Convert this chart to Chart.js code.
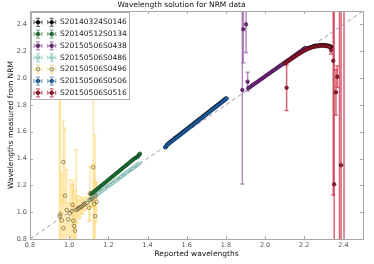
<!DOCTYPE html>
<html>
<head>
<meta charset="utf-8">
<script src="https://cdn.jsdelivr.net/npm/chart.js@4/dist/chart.umd.min.js"></script>
<style>
html,body{margin:0;padding:0;background:#fff;}
#wrap{width:374px;height:264px;}
</style>
</head>
<body>
<div id="wrap"><canvas id="c" width="374" height="264"></canvas></div>
<script>
// ---------- data ----------
const xTicks = [0.8, 1.0, 1.2, 1.4, 1.6, 1.8, 2.0, 2.2, 2.4];
const yTicks = [0.8, 1.0, 1.2, 1.4, 1.6, 1.8, 2.0, 2.2, 2.4];
const refLine = [0.8, 2.5];

const names = ["S20140324S0146","S20140512S0134","S20150506S0438","S20150506S0486","S20150506S0496","S20150506S0506","S20150506S0516"];

const blackX = [1.493,1.500,1.510,1.520,1.530,1.540,1.550,1.560,1.570,1.580,1.590,1.600,1.610,1.620,1.630,1.640,1.650,1.660,1.670,1.680,1.690,1.700,1.710,1.720,1.730,1.740,1.750,1.760,1.770,1.780,1.790,1.800,
  2.170,2.180,2.190,2.200,2.210,2.220,2.230,2.240,2.250,2.260,2.270,2.280,2.290,2.300,2.310,2.320,2.330,2.336];
const blackY = [1.486,1.503,1.517,1.529,1.540,1.552,1.563,1.574,1.586,1.597,1.609,1.620,1.631,1.643,1.654,1.666,1.677,1.688,1.700,1.711,1.723,1.734,1.745,1.757,1.768,1.780,1.791,1.802,1.814,1.825,1.837,1.848,
  2.183,2.192,2.201,2.209,2.216,2.223,2.229,2.234,2.238,2.241,2.243,2.245,2.246,2.246,2.245,2.243,2.238,2.232];
const blackErr = [];

const greenX = [1.112,1.120,1.128,1.136,1.144,1.152,1.160,1.168,1.176,1.184,1.192,1.200,1.208,1.216,1.224,1.232,1.240,1.248,1.256,1.264,1.272,1.280,1.288,1.296,1.304,1.312,1.320,1.328,1.336,1.343,1.349,1.354,1.358,1.361];
const greenY = [1.135,1.145,1.154,1.164,1.173,1.183,1.193,1.202,1.212,1.221,1.231,1.241,1.250,1.260,1.269,1.279,1.289,1.298,1.308,1.317,1.327,1.337,1.346,1.356,1.365,1.375,1.385,1.394,1.402,1.408,1.414,1.421,1.429,1.436];
const greenErr = [];

const purpleX = [1.884,1.889,1.903,1.911,1.914,1.922,1.930,1.938,1.946,1.954,1.962,1.970,1.978,1.986,1.994,2.002,2.010,2.018,2.026,2.034,2.042,2.050,2.058,2.066,2.074,2.082,2.090,2.098,2.106,2.114,2.122,2.130,2.138,2.146,2.154,2.162,2.170,2.178,2.186,2.194,2.200,2.206];
const purpleY = [1.911,2.364,2.400,1.973,1.924,1.932,1.940,1.949,1.957,1.965,1.973,1.982,1.990,1.998,2.006,2.015,2.023,2.031,2.039,2.048,2.056,2.064,2.072,2.081,2.089,2.097,2.105,2.114,2.122,2.130,2.138,2.146,2.155,2.163,2.171,2.179,2.188,2.196,2.204,2.213,2.220,2.226];
const purpleErr = [0.70,0.25,0.21,0.07];

const tealX = [1.103,1.111,1.119,1.127,1.135,1.143,1.151,1.159,1.167,1.175,1.183,1.191,1.199,1.207,1.215,1.223,1.231,1.239,1.247,1.255,1.263,1.271,1.279,1.287,1.295,1.303,1.311,1.319,1.327,1.335,1.343,1.351,1.358];
const tealY = [1.091,1.100,1.108,1.117,1.125,1.134,1.142,1.151,1.159,1.168,1.177,1.185,1.194,1.202,1.211,1.219,1.228,1.237,1.245,1.254,1.262,1.271,1.279,1.288,1.296,1.305,1.314,1.322,1.331,1.339,1.348,1.356,1.364];
const tealErr = [];

const yellowX = [0.950,0.955,0.962,0.970,0.971,0.979,0.987,0.996,1.004,1.013,1.018,1.021,1.025,1.030,1.036,1.041,1.048,1.055,1.062,1.068,1.075,1.082,1.090,1.101,1.106,1.110,1.118,1.123,1.128,1.132,1.135,1.140];
const yellowY = [0.971,0.985,0.939,1.374,0.880,1.123,1.016,0.947,0.992,1.009,1.054,0.936,0.897,0.862,1.016,1.022,1.028,1.035,1.040,1.048,1.055,1.062,1.070,1.033,1.141,1.090,1.100,1.335,1.060,0.971,1.120,1.078];
const yellowErr = [1.70,1.60,0.35,0.31,0.25,0.50,0.30,0.12,0.25,0.20,0.15,0.30,0.15,0.30,0.45,0.10,0.06,0.08,0.05,0.06,0.04,0.05,0.04,0.10,0.20,0.05,0.06,1.50,0.30,0.60,0.10,0.15];

const blueX = [1.490,1.496,1.502,1.510,1.518,1.526,1.534,1.542,1.550,1.558,1.566,1.574,1.582,1.590,1.598,1.606,1.614,1.622,1.630,1.638,1.646,1.654,1.662,1.670,1.678,1.686,1.694,1.702,1.710,1.718,1.726,1.734,1.742,1.750,1.758,1.766,1.774,1.782,1.790,1.797,1.804];
const blueY = [1.484,1.494,1.502,1.511,1.521,1.530,1.539,1.548,1.557,1.566,1.575,1.584,1.593,1.603,1.612,1.621,1.630,1.639,1.648,1.657,1.666,1.676,1.685,1.694,1.703,1.712,1.721,1.730,1.739,1.749,1.758,1.767,1.776,1.785,1.794,1.803,1.812,1.822,1.831,1.839,1.848];
const blueErr = [];

const redX = [2.110,2.337,2.348,2.353,2.362,2.369,2.380,2.388,2.403,
  2.100,2.108,2.116,2.124,2.132,2.140,2.148,2.156,2.164,2.172,2.180,2.188,2.196,2.204,2.212,2.220,2.228,2.236,2.244,2.252,2.260,2.268,2.276,2.284,2.292,2.300,2.308,2.316,2.324,2.330];
const redY = [1.928,2.209,2.129,1.208,1.894,2.010,0.400,1.350,3.000,
  2.108,2.116,2.124,2.132,2.140,2.148,2.156,2.164,2.172,2.180,2.187,2.194,2.201,2.207,2.213,2.218,2.223,2.227,2.231,2.234,2.236,2.238,2.240,2.241,2.241,2.241,2.240,2.238,2.235,2.231];
const redErr = [0.17,0.03,1.00,1.60,0.17,0.08,2.50,1.60,2.80];

// ---------- styles ----------
const styles = [
  {face:'#000000', edge:'#000000', err:'rgba(0,0,0,0.55)'},
  {face:'#1b7837', edge:'#0b3d1a', err:'rgba(27,120,55,0.55)'},
  {face:'#762a83', edge:'#3a1040', err:'rgba(130,60,145,0.6)'},
  {face:'rgba(255,255,255,0)', edge:'#5fa99c', err:'rgba(128,205,193,0.7)'},
  {face:'rgba(255,255,255,0)', edge:'#5e5326', err:'rgba(253,214,110,0.6)'},
  {face:'#2166ac', edge:'#0d2f55', err:'rgba(33,102,172,0.55)'},
  {face:'#a0182b', edge:'#3a0810', err:'rgba(200,35,60,0.7)'}
];
const xs = [blackX, greenX, purpleX, tealX, yellowX, blueX, redX];
const ys = [blackY, greenY, purpleY, tealY, yellowY, blueY, redY];
const es = [blackErr, greenErr, purpleErr, tealErr, yellowErr, blueErr, redErr];

const datasets = names.map((n, i) => ({
  label: n,
  data: xs[i].map((x, k) => ({x: x, y: ys[i][k]})),
  err: es[i],
  errColor: styles[i].err,
  backgroundColor: styles[i].face,
  borderColor: styles[i].edge,
  borderWidth: 0.6,
  pointRadius: 1.8,
  pointHoverRadius: 1.8,
  showLine: false,
  order: 7 - i
}));
datasets.push({
  label: '__ref',
  data: refLine.map(v => ({x: v, y: v})),
  showLine: true,
  borderColor: '#a094b4',
  borderWidth: 1,
  borderDash: [4, 3],
  pointRadius: 0,
  order: 20
});

Chart.defaults.font.family = "'DejaVu Sans', sans-serif";

const errPlugin = {
  id: 'errbars',
  beforeDatasetsDraw(chart) {
    const {ctx, chartArea: a, scales: {x, y}} = chart;
    ctx.save();
    ctx.beginPath(); ctx.rect(a.left, a.top, a.right - a.left, a.bottom - a.top); ctx.clip();
    chart.data.datasets.forEach(ds => {
      if (!ds.err || !ds.err.length) return;
      ctx.strokeStyle = ds.errColor; ctx.lineWidth = 1.5;
      ds.data.forEach((p, k) => {
        const e = ds.err[k]; if (!e) return;
        const px = x.getPixelForValue(p.x);
        const y1 = y.getPixelForValue(p.y - e), y2 = y.getPixelForValue(p.y + e);
        ctx.beginPath();
        ctx.moveTo(px, y1); ctx.lineTo(px, y2);
        ctx.moveTo(px - 2, y1); ctx.lineTo(px + 2, y1);
        ctx.moveTo(px - 2, y2); ctx.lineTo(px + 2, y2);
        ctx.stroke();
      });
    });
    ctx.restore();
  }
};

const framePlugin = {
  id: 'frame',
  afterDraw(chart) {
    const {ctx, chartArea: a, scales: {x, y}} = chart;
    ctx.save();
    ctx.strokeStyle = '#a8a8a8'; ctx.lineWidth = 1;
    ctx.strokeRect(Math.round(a.left) + 0.5, Math.round(a.top) + 0.5, Math.round(a.right - a.left), Math.round(a.bottom - a.top));
    ctx.beginPath();
    xTicks.forEach(v => {
      const p = Math.round(x.getPixelForValue(v)) + 0.5;
      ctx.moveTo(p, a.bottom); ctx.lineTo(p, a.bottom - 3);
      ctx.moveTo(p, a.top); ctx.lineTo(p, a.top + 3);
    });
    yTicks.forEach(v => {
      const p = Math.round(y.getPixelForValue(v)) + 0.5;
      ctx.moveTo(a.left, p); ctx.lineTo(a.left + 3, p);
      ctx.moveTo(a.right, p); ctx.lineTo(a.right - 3, p);
    });
    ctx.stroke();

    // legend
    const bx = a.left + 1.5, by = a.top + 1.5, bw = 98, bh = 87;
    ctx.fillStyle = '#ffffff';
    ctx.fillRect(bx, by, bw, bh);
    ctx.strokeStyle = '#b0b0b0';
    ctx.strokeRect(bx, by, bw, bh);
    ctx.font = "7.5px 'DejaVu Sans'";
    ctx.textBaseline = 'middle';
    ctx.textAlign = 'left';
    names.forEach((n, i) => {
      const ry = a.top + 11.3 + 11.75 * i;
      [a.left + 8, a.left + 21.7].forEach(mx => {
        ctx.strokeStyle = styles[i].err; ctx.lineWidth = 1.2;
        ctx.beginPath();
        ctx.moveTo(mx - 4, ry); ctx.lineTo(mx + 4, ry);
        ctx.moveTo(mx - 4, ry - 2); ctx.lineTo(mx - 4, ry + 2);
        ctx.moveTo(mx + 4, ry - 2); ctx.lineTo(mx + 4, ry + 2);
        ctx.moveTo(mx, ry - 4); ctx.lineTo(mx, ry + 4);
        ctx.moveTo(mx - 2, ry - 4); ctx.lineTo(mx + 2, ry - 4);
        ctx.moveTo(mx - 2, ry + 4); ctx.lineTo(mx + 2, ry + 4);
        ctx.stroke();
        ctx.beginPath();
        ctx.arc(mx, ry, 1.8, 0, Math.PI * 2);
        ctx.fillStyle = styles[i].face; ctx.fill();
        ctx.strokeStyle = styles[i].edge; ctx.lineWidth = 0.7; ctx.stroke();
      });
      ctx.fillStyle = '#1a1a1a';
      ctx.fillText(n, a.left + 30, ry);
    });
    ctx.restore();
  }
};

new Chart(document.getElementById('c'), {
  type: 'scatter',
  data: {datasets: datasets},
  options: {
    responsive: false,
    animation: false,
    events: [],
    layout: {padding: {left: 0, right: 11, top: 0, bottom: 0}},
    plugins: {
      legend: {display: false},
      tooltip: {enabled: false},
      title: {
        display: true,
        text: 'Wavelength solution for NRM data',
        color: '#111',
        font: {size: 7.5, weight: 'normal', family: "'DejaVu Sans'"},
        padding: {top: 1, bottom: 1}
      }
    },
    scales: {
      x: {
        type: 'linear', min: 0.8, max: 2.5,
        afterBuildTicks: s => { s.ticks = xTicks.map(v => ({value: v})); },
        afterFit: s => { s.height = 25; },
        grid: {display: false, drawTicks: false},
        border: {display: false},
        ticks: {padding: 2, color: '#555', font: {size: 6.5}, maxRotation: 0, autoSkip: false,
                callback: v => Number(v).toFixed(1)},
        title: {display: true, text: 'Reported wavelengths', color: '#111',
                font: {size: 7.5}, padding: {top: 0, bottom: 5}}
      },
      y: {
        type: 'linear', min: 0.8, max: 2.5,
        afterBuildTicks: s => { s.ticks = yTicks.map(v => ({value: v})); },
        afterFit: s => { s.width = 30; },
        grid: {display: false, drawTicks: false},
        border: {display: false},
        ticks: {padding: 3, color: '#555', font: {size: 6.5}, autoSkip: false,
                callback: v => Number(v).toFixed(1)},
        title: {display: true, text: 'Wavelengths measured from NRM', color: '#111',
                font: {size: 7.5}, padding: {top: 7, bottom: 0}}
      }
    }
  },
  plugins: [errPlugin, framePlugin]
});
</script>
</body>
</html>
